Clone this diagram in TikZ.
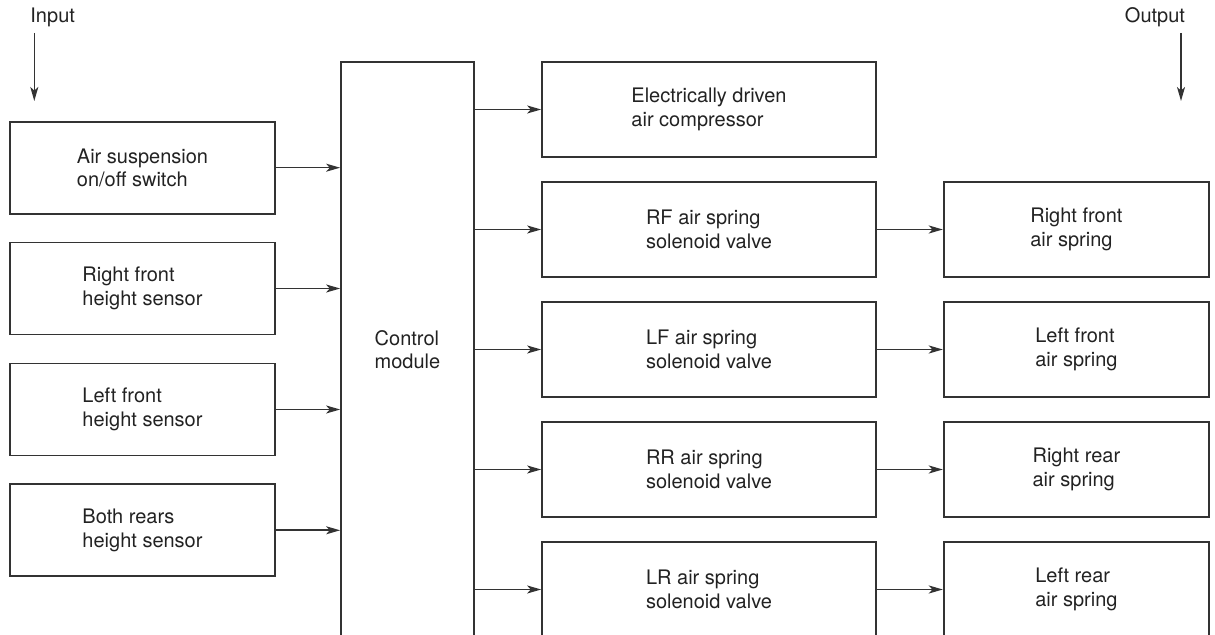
\documentclass[tikz,border=0pt]{standalone}
\usepackage{fontspec}
\setmainfont{TeX Gyre Heros}
\usetikzlibrary{arrows.meta}
\definecolor{ln}{HTML}{333333}
\definecolor{tx}{HTML}{222222}
\tikzset{
  box/.style={draw=ln, line width=0.85pt, rectangle, inner sep=0pt, align=left,
    text=tx, font=\fontsize{10}{11.65}\selectfont},
  lbox/.style={box, minimum width=132.5pt, minimum height=46pt},
  mbox/.style={box, minimum width=167pt, minimum height=47.5pt},
  rbox/.style={box, minimum width=132.75pt, minimum height=47.5pt},
  cbox/.style={box, minimum width=66.5pt, minimum height=287.5pt},
  lbl/.style={inner sep=0pt, text=tx, font=\fontsize{10}{11.65}\selectfont},
  conn/.style={draw=ln, line width=0.8pt, -{Stealth[length=7pt,width=4pt,inset=1.8pt]}}
}
\begin{document}
\begin{tikzpicture}[x=0.5pt,y=-0.5pt]
\useasboundingbox (0,0) rectangle (1215,635);
\clip (0,0) rectangle (1215,635);
% labels
\node[lbl, anchor=base west] (inlab) at (30,23) {Input};
\node[lbl, anchor=base] (outlab) at (1155,23) {Output};
\coordinate (inA) at (34.3,33);
\coordinate (inB) at (34.3,101);
\coordinate (outA) at (1181,33);
\coordinate (outB) at (1181,101);
\draw[conn] (inA) -- (inB);
\draw[conn] (outA) -- (outB);
% left column
\node[lbox] (l1) at (142.5,167.7) {Air suspension\\on/off switch};
\node[lbox] (l2) at (142.5,288.5) {Right front\\height sensor};
\node[lbox] (l3) at (142.5,409.5) {Left front\\height sensor};
\node[lbox] (l4) at (142.5,530.3) {Both rears\\height sensor};
% control module
\node[cbox] (cm) at (407.5,349.5) {Control\\module};
% middle column
\node[mbox] (m0) at (709,109.5) {Electrically driven\\air compressor};
\node[mbox] (m1) at (709,229.5) {RF air spring\\solenoid valve};
\node[mbox] (m2) at (709,349.5) {LF air spring\\solenoid valve};
\node[mbox] (m3) at (709,469.5) {RR air spring\\solenoid valve};
\node[mbox] (m4) at (709,589.5) {LR air spring\\solenoid valve};
% right column
\node[rbox] (r1) at (1076.4,229.5) {Right front\\air spring};
\node[rbox] (r2) at (1076.4,349.5) {Left front\\air spring};
\node[rbox] (r3) at (1076.4,469.5) {Right rear\\air spring};
\node[rbox] (r4) at (1076.4,589.5) {Left rear\\air spring};
% connectors
\foreach \n in {l1,l2,l3,l4} \draw[conn] (\n.east) -- (\n.east -| cm.west);
\foreach \n in {m0,m1,m2,m3,m4} \draw[conn] (\n.west -| cm.east) -- (\n.west);
\draw[conn] (m1.east) -- (r1.west);
\draw[conn] (m2.east) -- (r2.west);
\draw[conn] (m3.east) -- (r3.west);
\draw[conn] (m4.east) -- (r4.west);
\end{tikzpicture}
\end{document}
